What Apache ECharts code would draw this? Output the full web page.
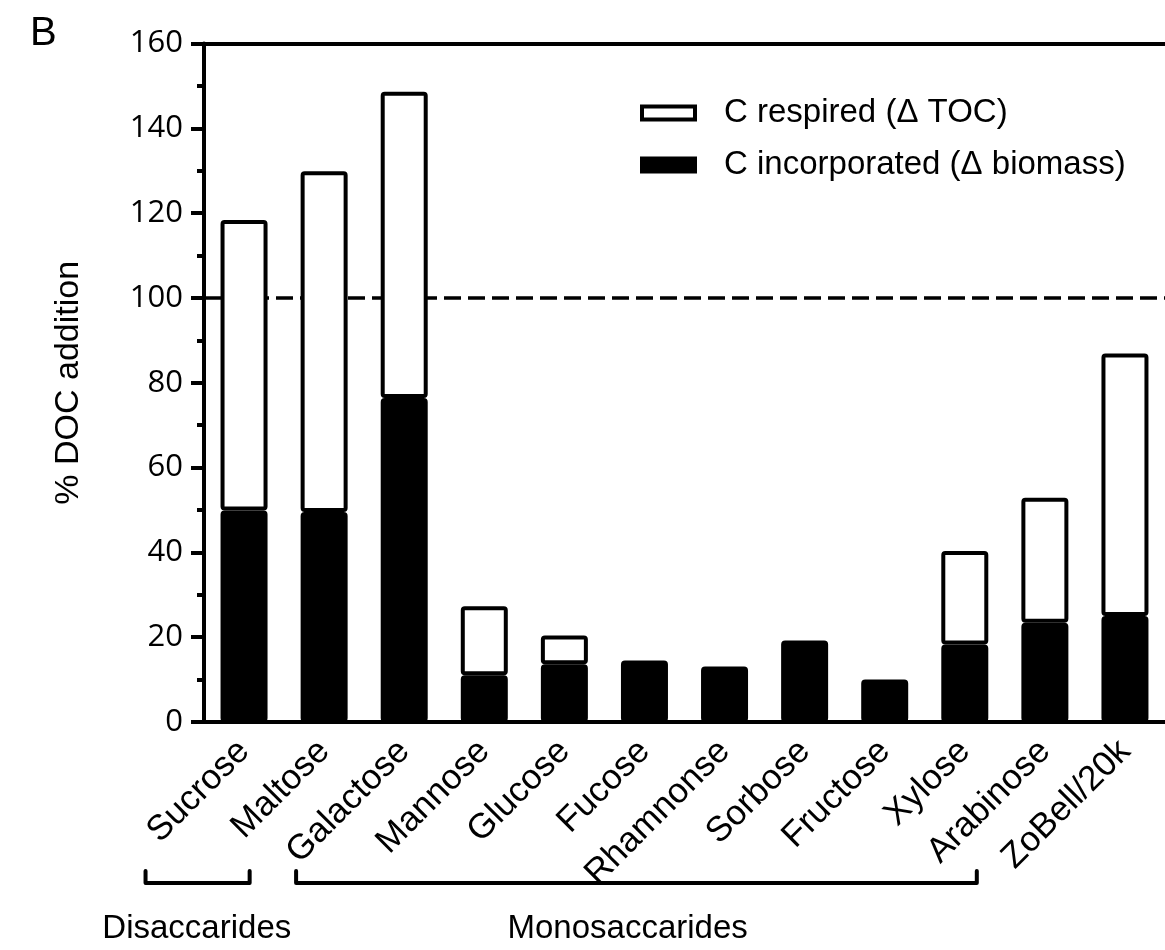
<!DOCTYPE html>
<html>
<head>
<meta charset="utf-8">
<script src="https://cdn.jsdelivr.net/npm/echarts@6/dist/echarts.min.js"></script>
<style>
  html, body { margin: 0; padding: 0; background: #fff; }
  #chart { width: 1165px; height: 950px; }
</style>
</head>
<body>
<div id="chart"></div>
<script>
// Substrates tested (x axis)
const categories = ['Sucrose', 'Maltose', 'Galactose', 'Mannose', 'Glucose', 'Fucose',
  'Rhamnonse', 'Sorbose', 'Fructose', 'Xylose', 'Arabinose', 'ZoBell/20k'];

// Carbon incorporated into biomass, % of DOC added
const incorporated = [49.9, 49.5, 76.4, 11.0, 13.6, 14.5, 13.1, 19.2, 10.0, 18.3, 23.4, 25.0];

// Carbon respired (from change in TOC), % of DOC added; stacked on top
const respired = [68.5, 80.4, 72.2, 16.3, 6.8, null, null, null, null, 22.0, 29.5, 61.9];

// Y axis ticks
const yMin = 0, yMax = 160, yStep = 20;

// Reference level: 100 % of added DOC
const fullAddition = 100;

// Substrate groups bracketed under the axis labels
const groups = [
  { name: 'Disaccarides', from: -1.23, to: 0.07, labelAt: -0.59 },
  { name: 'Monosaccarides', from: 0.65, to: 9.15, labelAt: 4.79 }
];

const sans = '"Liberation Sans", Arial, sans-serif';
const tickFont = '"Open Sans", "Noto Sans", sans-serif';

const chart = echarts.init(document.getElementById('chart'), null, { renderer: 'canvas' });

chart.setOption({
  backgroundColor: '#fff',
  animation: false,
  title: {
    text: 'B', left: 25, top: 9,
    textStyle: { fontFamily: sans, fontSize: 40, fontWeight: 'normal', color: '#000' }
  },
  legend: {
    orient: 'vertical', left: 635, top: 89,
    icon: 'rect',
    itemWidth: 53, itemHeight: 13, itemGap: 14,
    textStyle: { fontFamily: sans, fontSize: 33, color: '#000', lineHeight: 38, padding: [0, 0, 0, 24] },
    data: [
      { name: 'C respired (Δ TOC)', itemStyle: { color: '#fff', borderColor: '#000', borderWidth: 4 } },
      { name: 'C incorporated (Δ biomass)', itemStyle: { color: '#000', borderColor: '#000', borderWidth: 4 } }
    ]
  },
  grid: { left: 204, right: -8, top: 43.5, bottom: 228, containLabel: false },
  xAxis: [{
    type: 'category', data: categories, position: 'bottom',
    axisLine: { show: true, lineStyle: { color: '#000', width: 4 } },
    axisTick: { show: false },
    axisLabel: {
      interval: 0, rotate: 45, margin: 24,
      fontFamily: sans, fontSize: 35, color: '#000'
    }
  }, {
    type: 'category', data: categories, position: 'top',
    axisLine: { show: true, lineStyle: { color: '#000', width: 4 } },
    axisTick: { show: false }, axisLabel: { show: false }
  }],
  yAxis: {
    type: 'value', min: yMin, max: yMax, interval: yStep,
    name: '% DOC addition', nameLocation: 'middle', nameGap: 118, nameRotate: 90,
    nameTextStyle: { fontFamily: sans, fontSize: 34, color: '#000' },
    axisLine: { show: true, lineStyle: { color: '#000', width: 4 } },
    axisTick: { show: true, length: 13, lineStyle: { color: '#000', width: 4 } },
    minorTick: { show: true, splitNumber: 2, length: 7, lineStyle: { color: '#000', width: 4 } },
    splitLine: { show: false },
    axisLabel: { margin: 21, fontFamily: tickFont, fontSize: 31, color: '#000' }
  },
  series: [{
    name: 'C incorporated (Δ biomass)', type: 'bar', stack: 'doc',
    barWidth: 47, z: 2,
    itemStyle: { color: '#000', borderColor: '#000', borderWidth: 4, borderRadius: 2 },
    data: incorporated,
    markLine: {
      z: 1, silent: true, symbol: ['none', 'none'],
      label: { show: false },
      lineStyle: { color: '#000', width: 3.5, type: [17, 7] },
      data: [{ yAxis: fullAddition }]
    }
  }, {
    name: 'C respired (Δ TOC)', type: 'bar', stack: 'doc',
    barWidth: 47, z: 3,
    itemStyle: { color: '#fff', borderColor: '#000', borderWidth: 4, borderRadius: 2 },
    data: respired
  }]
});

// Brackets and group names under the rotated category labels
const x0 = chart.convertToPixel({ xAxisIndex: 0 }, categories[0]);
const band = chart.convertToPixel({ xAxisIndex: 0 }, categories[1]) - x0;
const bracketTop = 871, bracketBottom = 883, groupLabelY = 929;
const elements = [];
groups.forEach(g => {
  const l = x0 + g.from * band, r = x0 + g.to * band;
  elements.push({
    type: 'polyline',
    shape: { points: [[l, bracketTop], [l, bracketBottom], [r, bracketBottom], [r, bracketTop]] },
    style: { stroke: '#000', lineWidth: 4, fill: null, lineJoin: 'round', lineCap: 'round' }
  });
  elements.push({
    type: 'text', x: x0 + g.labelAt * band, y: groupLabelY,
    style: { text: g.name, fontFamily: sans, fontSize: 33, fill: '#000', align: 'center', verticalAlign: 'middle' }
  });
});
chart.setOption({ graphic: elements });
</script>
</body>
</html>
